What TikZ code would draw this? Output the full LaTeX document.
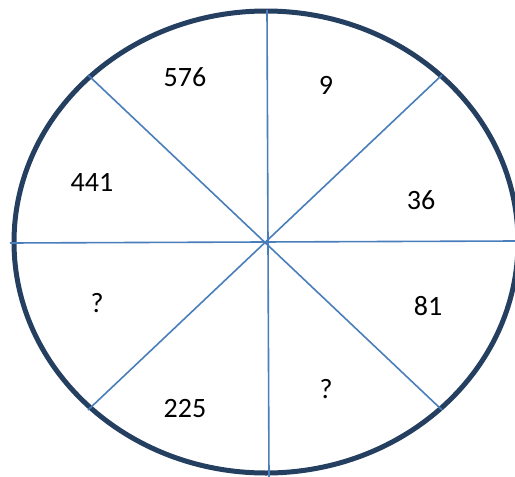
\documentclass[tikz,border=0pt]{standalone}
\usepackage{fontspec}
\setmainfont{Carlito}
\definecolor{rim}{HTML}{243F60}
\definecolor{spoke}{HTML}{4A7EBB}
\begin{document}
\begin{tikzpicture}[x=1pt,y=-1pt,
  spokeline/.style={draw=spoke,line width=1.6pt},
  lbl/.style={font=\fontsize{28}{32}\selectfont,inner sep=0pt}]
\useasboundingbox (0,0) rectangle (515,477);
\coordinate (c) at (266,242);
\draw[rim,line width=5pt] (c) ellipse [x radius=252,y radius=231];
\coordinate (t) at (267,10);
\coordinate (b) at (269,477);
\coordinate (l) at (10,243);
\coordinate (r) at (515,241);
\coordinate (tl) at (88,75);
\coordinate (br) at (442,410);
\coordinate (tr) at (442,75);
\coordinate (bl) at (88,410);
\draw[spokeline] (t) -- (b);
\draw[spokeline] (l) -- (r);
\draw[spokeline] (tl) -- (br);
\draw[spokeline] (tr) -- (bl);
\node[lbl] (n1) at (185,77) {576};
\node[lbl] (n2) at (326,85) {9};
\node[lbl] (n3) at (92,182) {441};
\node[lbl] (n4) at (421,200) {36};
\node[lbl] (n5) at (97,303) {?};
\node[lbl] (n6) at (428,306) {81};
\node[lbl] (n7) at (185,409) {225};
\node[lbl] (n8) at (326,389) {?};
\end{tikzpicture}
\end{document}
